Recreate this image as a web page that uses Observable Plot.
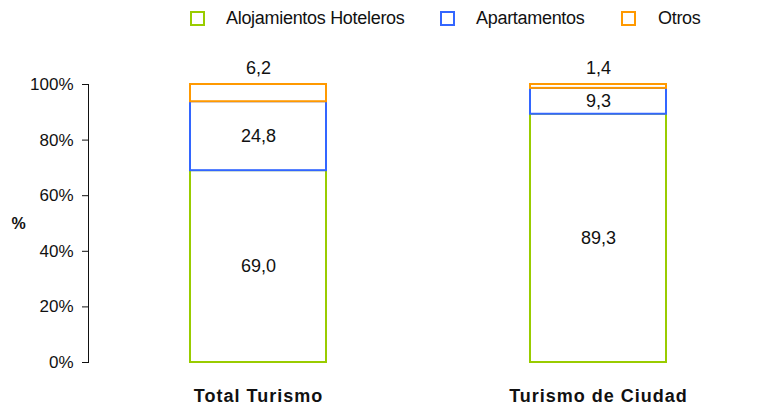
<!DOCTYPE html>
<html>
<head>
<meta charset="utf-8">
<script src="https://cdn.jsdelivr.net/npm/d3@7"></script>
<script src="https://cdn.jsdelivr.net/npm/@observablehq/plot@0.6"></script>
<style>
  body { margin: 0; background: #fff; font-family: "Liberation Sans", sans-serif; }
  #legend { position: relative; width: 757px; height: 38px; }
  .sw { position: absolute; top: 11px; width: 11px; height: 11px; border: 2px solid; background: #fff; }
  .lt { position: absolute; top: 8px; font-size: 18px; color: #111; white-space: nowrap; letter-spacing: -0.3px; }
  .cat text { letter-spacing: 1px; }
</style>
</head>
<body>
<div id="legend"></div>
<div id="chart"></div>
<script>
const categories = ["Total Turismo", "Turismo de Ciudad"];
const seriesNames = ["Alojamientos Hoteleros", "Apartamentos", "Otros"];
const seriesColors = ["#99cc00", "#3366ff", "#ff9900"];
const hoteles = [69.0, 89.3];
const apartamentos = [24.8, 9.3];
const otros = [6.2, 1.4];
const yTicks = [0, 20, 40, 60, 80, 100];

const seriesValues = [hoteles, apartamentos, otros];
const data = [];
seriesNames.forEach((s, i) => categories.forEach((c, j) => data.push({cat: c, serie: s, value: seriesValues[i][j]})));
const fmt = v => v.toFixed(1).replace(".", ",");

// legend
const legend = document.getElementById("legend");
const legendPos = [[190, 226], [440, 476], [621, 658]];
seriesNames.forEach((s, i) => {
  const sw = document.createElement("div");
  sw.className = "sw"; sw.style.left = legendPos[i][0] + "px"; sw.style.borderColor = seriesColors[i];
  const t = document.createElement("div");
  t.className = "lt"; t.style.left = legendPos[i][1] + "px"; t.textContent = s;
  legend.appendChild(sw); legend.appendChild(t);
});

const chart = Plot.plot({
  width: 757,
  height: 367,
  marginTop: 46,
  marginBottom: 43,
  marginLeft: 88,
  marginRight: 0,
  style: {fontFamily: '"Liberation Sans", sans-serif', fontSize: "16px", color: "#111", background: "#fff"},
  x: {domain: categories, range: [88, 768], paddingInner: 0.6, paddingOuter: 0.3},
  y: {domain: [0, 100]},
  color: {domain: seriesNames, range: seriesColors},
  marks: [
    Plot.frame({anchor: "left", stroke: "#111"}),
    Plot.axisY({ticks: yTicks, tickFormat: d => d + "%", tickSize: 6, tickPadding: 9, label: null, fontSize: 17}),
    Plot.axisX({tickSize: 0, tickPadding: 27, label: null, fontWeight: "bold", fontSize: 18, className: "cat"}),
    Plot.text(["%"], {frameAnchor: "left", dx: -77, fontWeight: "bold", fontSize: 16}),
    Plot.barY(data, {x: "cat", y: "value", z: "serie", stroke: "serie", fill: "white", strokeWidth: 2}),
    Plot.text(data.filter(d => d.serie !== "Otros"), Plot.stackY({x: "cat", y: "value", z: "serie", text: d => fmt(d.value), fontSize: 18})),
    Plot.text(data.filter(d => d.serie === "Otros"), {x: "cat", y: 100, text: d => fmt(d.value), dy: -16, fontSize: 18})
  ]
});
document.getElementById("chart").appendChild(chart);
</script>
</body>
</html>
